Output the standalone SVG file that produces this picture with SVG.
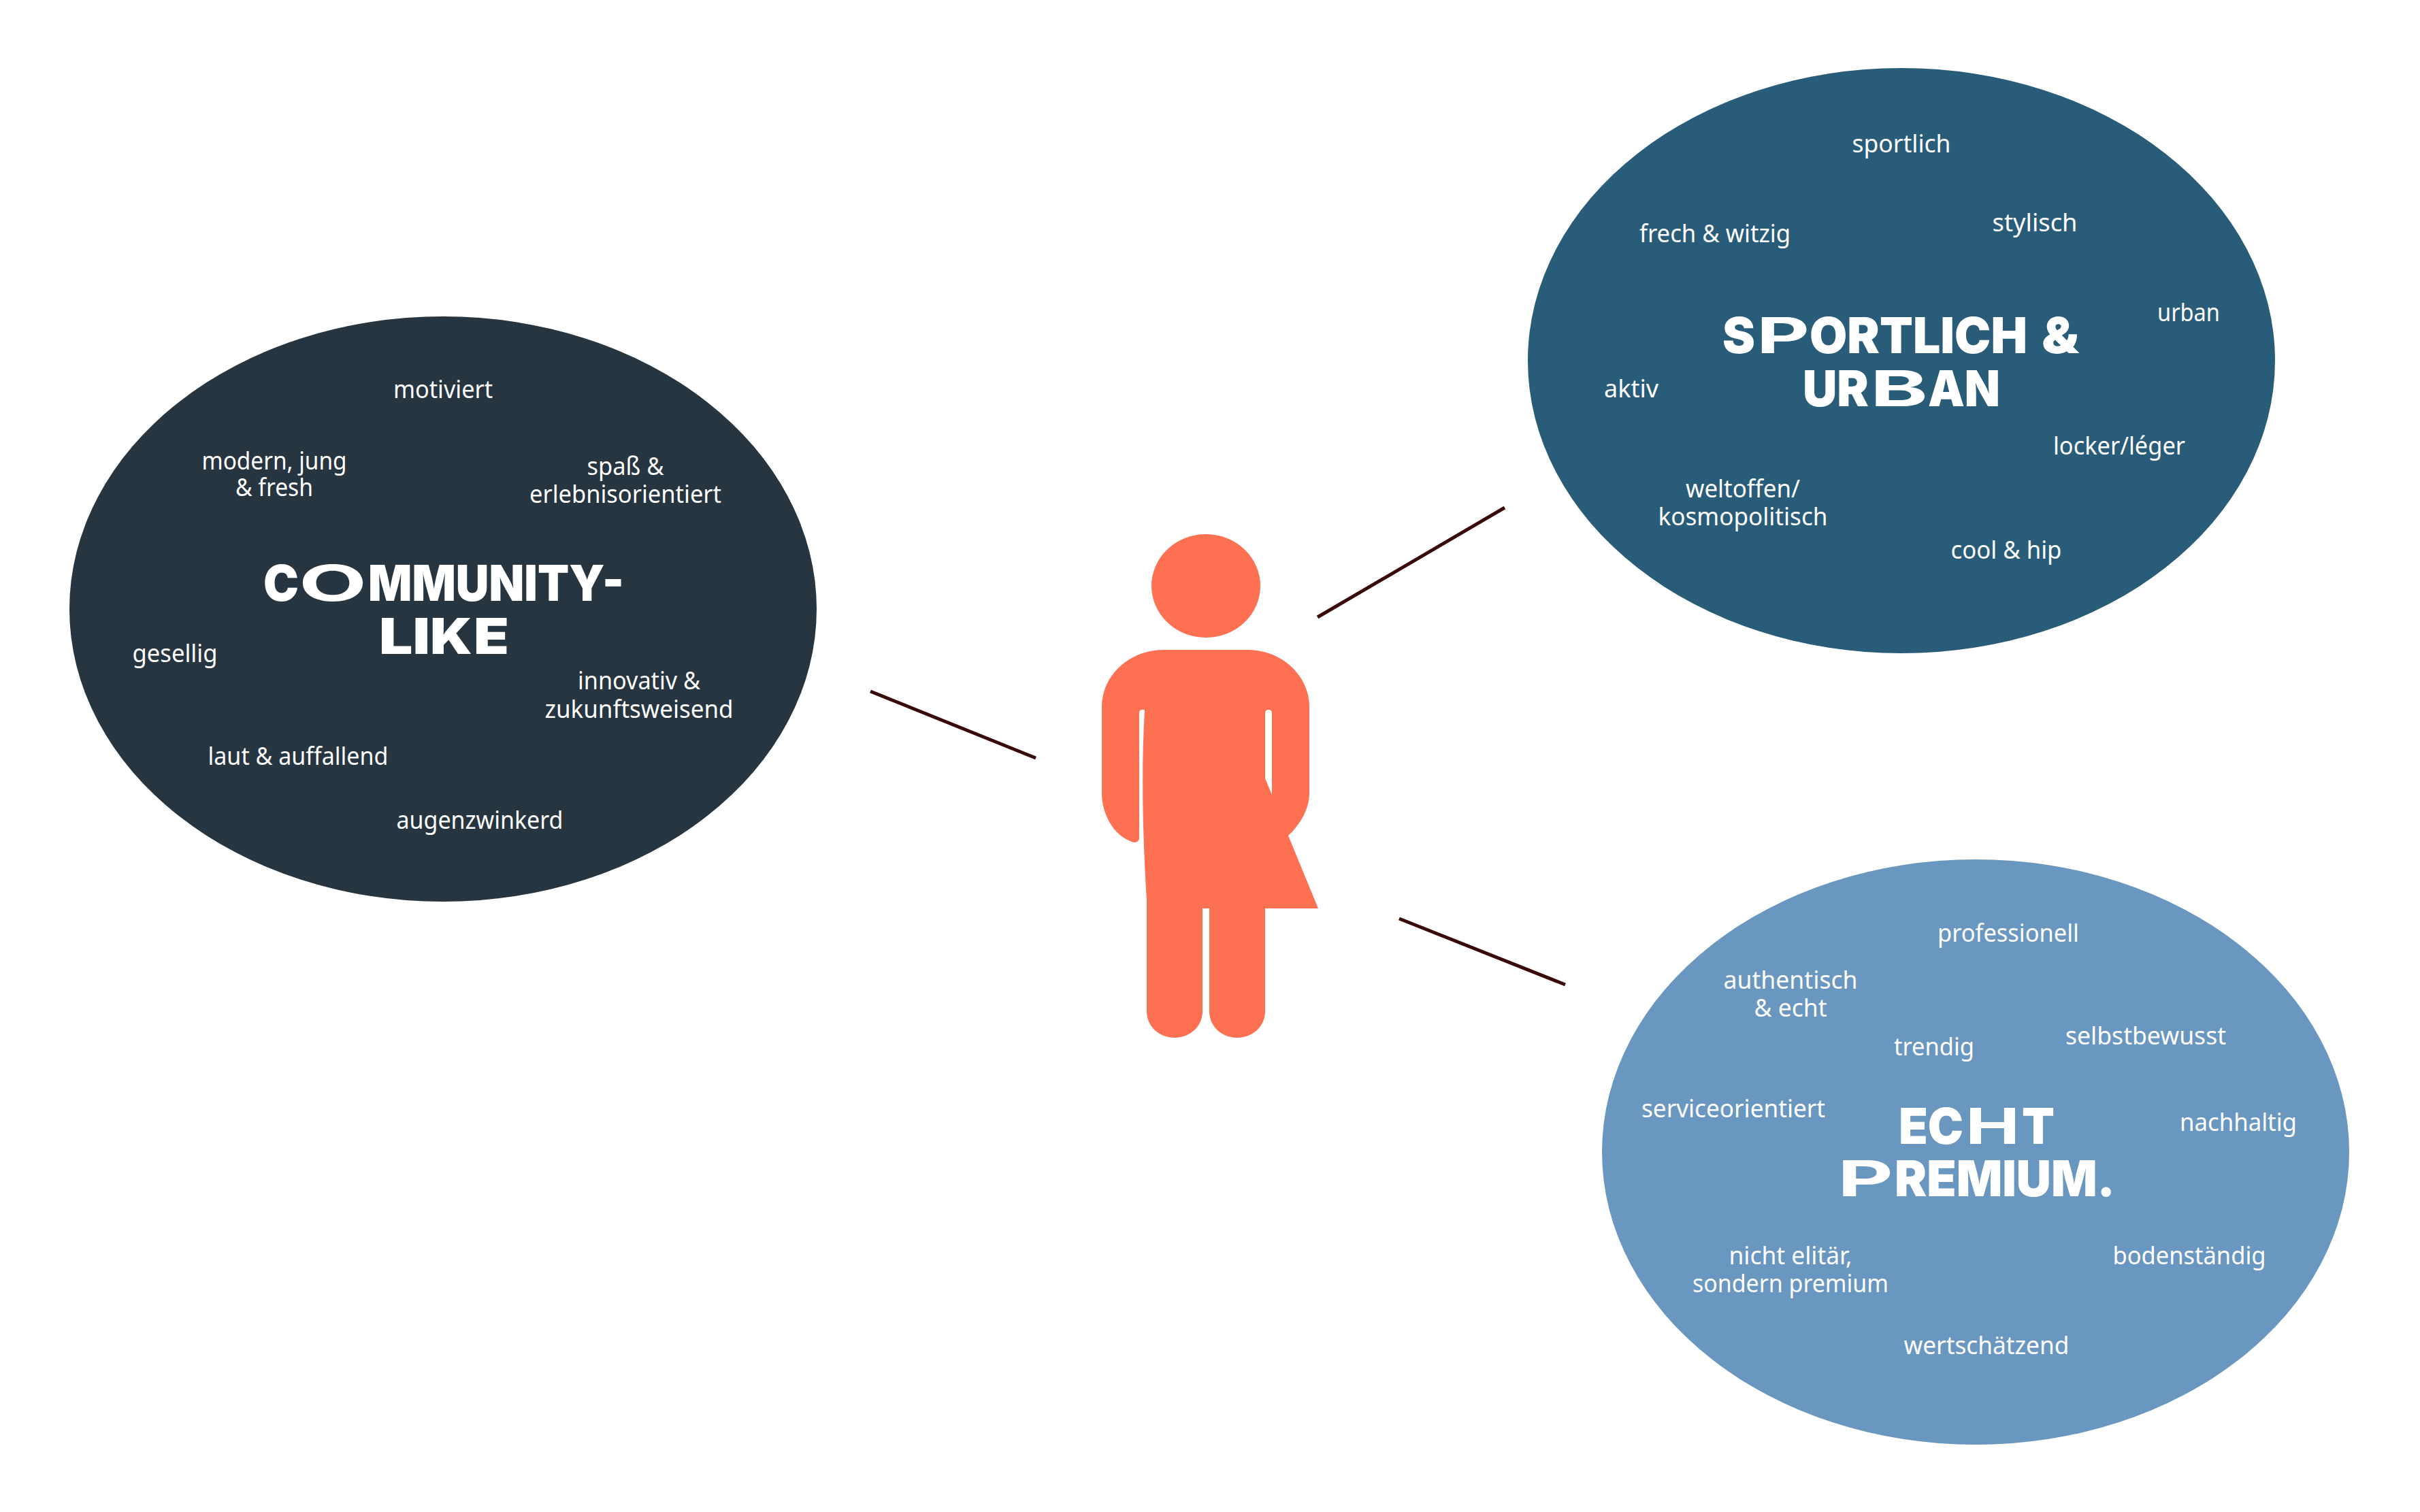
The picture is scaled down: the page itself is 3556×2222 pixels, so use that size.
<svg xmlns="http://www.w3.org/2000/svg" width="3556" height="2222" viewBox="0 0 3556 2222">
<style>
.t{font-family:"Noto Sans","Liberation Sans",sans-serif;font-size:36px;fill:#fff;text-anchor:middle}
.h{font-family:Inter,"Liberation Sans",sans-serif;font-size:73px;font-weight:900;fill:#fff}
.w{font-weight:700}
.c{stroke:#3a0a0a;stroke-width:5;fill:none}
</style>
<rect width="3556" height="2222" fill="#fff"/>
<g id="connectors">
<line class="c" x1="1279" y1="1016" x2="1522" y2="1114"/>
<line class="c" x1="1936" y1="907" x2="2211" y2="746"/>
<line class="c" x1="2056" y1="1350" x2="2300" y2="1447"/>
</g>
<g id="person" fill="#fd7052">
<ellipse cx="1772" cy="861" rx="80" ry="76"/>
<path d="M1710 955H1833C1884 955 1924 993 1924 1039V1165C1924 1193 1906 1216 1893 1228L1937 1335H1859V1486C1859 1509 1840 1525 1818 1525C1796 1525 1777 1509 1777 1486V1335H1767V1486C1767 1509 1748 1525 1726 1525C1704 1525 1685 1509 1685 1486V1323C1679 1230 1677 1130 1682 1043H1679Q1674 1043 1674 1047V1233Q1671 1240 1663 1237C1635 1227 1619 1195 1619 1165V1039C1619 993 1659 955 1710 955Z"/>
<path fill="#fff" d="M1859 1048Q1859 1043 1864 1043Q1869 1043 1869 1048V1168L1859 1144Z"/>
</g>
<g id="community">
<ellipse cx="651" cy="895" rx="549" ry="430" fill="#263540"/>
<text class="h" y="883"><tspan x="387" textLength="52" lengthAdjust="spacingAndGlyphs">C</tspan><tspan class="w" x="439" textLength="100" lengthAdjust="spacingAndGlyphs">O</tspan><tspan x="541" textLength="376" lengthAdjust="spacingAndGlyphs">MMUNITY-</tspan></text>
<text class="h" y="961"><tspan x="557" textLength="75" lengthAdjust="spacingAndGlyphs">LI</tspan><tspan x="632" textLength="62" lengthAdjust="spacingAndGlyphs">K</tspan><tspan x="696" textLength="52" lengthAdjust="spacingAndGlyphs">E</tspan></text>
<text class="t" x="651" y="585" textLength="146" lengthAdjust="spacingAndGlyphs">motiviert</text>
<text class="t" x="403" y="690" textLength="213" lengthAdjust="spacingAndGlyphs">modern, jung</text>
<text class="t" x="403" y="729" textLength="114" lengthAdjust="spacingAndGlyphs">&amp; fresh</text>
<text class="t" x="919" y="698" textLength="113" lengthAdjust="spacingAndGlyphs">spaß &amp;</text>
<text class="t" x="919" y="739" textLength="282" lengthAdjust="spacingAndGlyphs">erlebnisorientiert</text>
<text class="t" x="257" y="973" textLength="125" lengthAdjust="spacingAndGlyphs">gesellig</text>
<text class="t" x="939" y="1013" textLength="180" lengthAdjust="spacingAndGlyphs">innovativ &amp;</text>
<text class="t" x="939" y="1055" textLength="277" lengthAdjust="spacingAndGlyphs">zukunftsweisend</text>
<text class="t" x="438" y="1124" textLength="265" lengthAdjust="spacingAndGlyphs">laut &amp; auffallend</text>
<text class="t" x="705" y="1218" textLength="245" lengthAdjust="spacingAndGlyphs">augenzwinkerd</text>
</g>
<g id="sportlich">
<ellipse cx="2794" cy="530" rx="549" ry="430" fill="#295c79"/>
<text class="h" y="519"><tspan x="2531" textLength="48" lengthAdjust="spacingAndGlyphs">S</tspan><tspan class="w" x="2581" textLength="78" lengthAdjust="spacingAndGlyphs">P</tspan><tspan x="2659" textLength="320" lengthAdjust="spacingAndGlyphs">ORTLICH</tspan><tspan x="3000" textLength="55" lengthAdjust="spacingAndGlyphs">&amp;</tspan></text>
<text class="h" y="597"><tspan x="2649" textLength="97" lengthAdjust="spacingAndGlyphs">UR</tspan><tspan class="w" x="2748" textLength="85" lengthAdjust="spacingAndGlyphs">B</tspan><tspan x="2833" textLength="106" lengthAdjust="spacingAndGlyphs">AN</tspan></text>
<text class="t" x="2794" y="224" textLength="145" lengthAdjust="spacingAndGlyphs">sportlich</text>
<text class="t" x="2520" y="356" textLength="222" lengthAdjust="spacingAndGlyphs">frech &amp; witzig</text>
<text class="t" x="2990" y="340" textLength="125" lengthAdjust="spacingAndGlyphs">stylisch</text>
<text class="t" x="3216" y="472" textLength="92" lengthAdjust="spacingAndGlyphs">urban</text>
<text class="t" x="2397" y="584" textLength="80" lengthAdjust="spacingAndGlyphs">aktiv</text>
<text class="t" x="3114" y="668" textLength="194" lengthAdjust="spacingAndGlyphs">locker/léger</text>
<text class="t" x="2561" y="731" textLength="168" lengthAdjust="spacingAndGlyphs">weltoffen/</text>
<text class="t" x="2561" y="772" textLength="249" lengthAdjust="spacingAndGlyphs">kosmopolitisch</text>
<text class="t" x="2948" y="821" textLength="163" lengthAdjust="spacingAndGlyphs">cool &amp; hip</text>
</g>
<g id="echt">
<ellipse cx="2903" cy="1693" rx="549" ry="430" fill="#6a97bf"/>
<text class="h" y="1681"><tspan x="2790" textLength="95" lengthAdjust="spacingAndGlyphs">EC</tspan><tspan class="w" x="2888" textLength="80" lengthAdjust="spacingAndGlyphs">H</tspan><tspan x="2971" textLength="48" lengthAdjust="spacingAndGlyphs">T</tspan></text>
<text class="h" y="1758"><tspan class="w" x="2700" textLength="82" lengthAdjust="spacingAndGlyphs">P</tspan><tspan x="2784" textLength="324" lengthAdjust="spacingAndGlyphs">REMIUM.</tspan></text>
<text class="t" x="2951" y="1384" textLength="208" lengthAdjust="spacingAndGlyphs">professionell</text>
<text class="t" x="2631" y="1453" textLength="197" lengthAdjust="spacingAndGlyphs">authentisch</text>
<text class="t" x="2631" y="1494" textLength="107" lengthAdjust="spacingAndGlyphs">&amp; echt</text>
<text class="t" x="2842" y="1551" textLength="118" lengthAdjust="spacingAndGlyphs">trendig</text>
<text class="t" x="3153" y="1535" textLength="236" lengthAdjust="spacingAndGlyphs">selbstbewusst</text>
<text class="t" x="2547" y="1642" textLength="270" lengthAdjust="spacingAndGlyphs">serviceorientiert</text>
<text class="t" x="3289" y="1662" textLength="172" lengthAdjust="spacingAndGlyphs">nachhaltig</text>
<text class="t" x="2631" y="1858" textLength="181" lengthAdjust="spacingAndGlyphs">nicht elitär,</text>
<text class="t" x="2631" y="1899" textLength="288" lengthAdjust="spacingAndGlyphs">sondern premium</text>
<text class="t" x="3217" y="1858" textLength="225" lengthAdjust="spacingAndGlyphs">bodenständig</text>
<text class="t" x="2919" y="1990" textLength="243" lengthAdjust="spacingAndGlyphs">wertschätzend</text>
</g>
</svg>
